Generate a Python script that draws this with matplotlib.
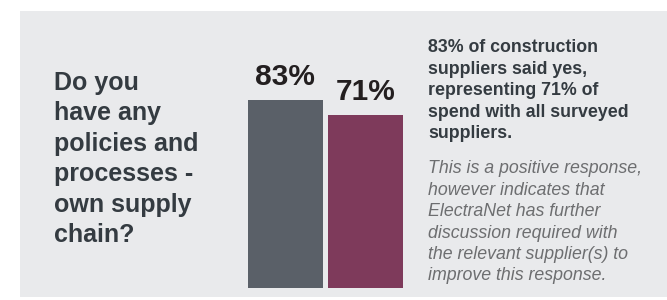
import matplotlib
matplotlib.use("Agg")
import matplotlib.pyplot as plt
import matplotlib.patches as mpatches
import numpy as np

# Datos
categories = ["Suppliers", "Spend"]
values = [83, 71]
bar_labels = ["83%", "71%"]
bar_colors = ["#5a6068", "#7e3a5b"]

question_lines = ["Do you", "have any", "policies and", "processes -",
                  "own supply", "chain?"]
summary_lines = ["83% of construction", "suppliers said yes,",
                 "representing 71% of", "spend with all surveyed",
                 "suppliers."]
comment_lines = ["This is a positive response,", "however indicates that",
                 "ElectraNet has further", "discussion required with",
                 "the relevant supplier(s) to", "improve this response."]

W, H = 667, 300
plt.rcParams['font.family'] = ['Liberation Sans', 'DejaVu Sans']

fig = plt.figure(figsize=(W / 100, H / 100), dpi=100)
fig.patch.set_facecolor("white")

# panel gris de fondo
fig.patches.append(mpatches.Rectangle((19.5 / W, 3 / H), 1 - 19.5 / W, 286 / H,
                                      transform=fig.transFigure,
                                      facecolor="#e9eaec", edgecolor="none",
                                      zorder=-10))

def fy(px):
    return 1 - px / H

# barras
ax_left, ax_right, ax_top, ax_bottom = 240, 410, 40, 287.7
ax = fig.add_axes([ax_left / W, fy(ax_bottom), (ax_right - ax_left) / W,
                   (ax_bottom - ax_top) / H])
ax.set_zorder(1)
ax.set_facecolor("none")
base = -67.2
x = np.arange(len(values))
heights = [v - base for v in values]
ax.bar(x, heights, bottom=base, width=0.93, color=bar_colors)
ax.set_xlim(-0.563, 1.551)
ax.set_ylim(base, base + (ax_bottom - ax_top) / 1.25)
for xi, v, lab in zip(x, values, bar_labels):
    ax.annotate(lab, (xi, v), xytext=(0, 11), textcoords="offset points",
                ha="center", va="baseline", fontsize=21.5, fontweight="bold",
                color="#231f20")
ax.axis("off")

# pregunta
for i, line in enumerate(question_lines):
    fig.text(54 / W, fy(90 + 30.5 * i), line, fontsize=18, fontweight="bold",
             color="#343b41", va="baseline", ha="left")

# resumen
for i, line in enumerate(summary_lines):
    fig.text(428 / W, fy(52.3 + 21.5 * i), line, fontsize=12.8,
             fontweight="bold", color="#343b41", va="baseline", ha="left")

# comentario
for i, line in enumerate(comment_lines):
    fig.text(428 / W, fy(173.3 + 21.4 * i), line, fontsize=12.8,
             style="italic", color="#6d6e70", va="baseline", ha="left")

fig.savefig("out.png", dpi=100)
